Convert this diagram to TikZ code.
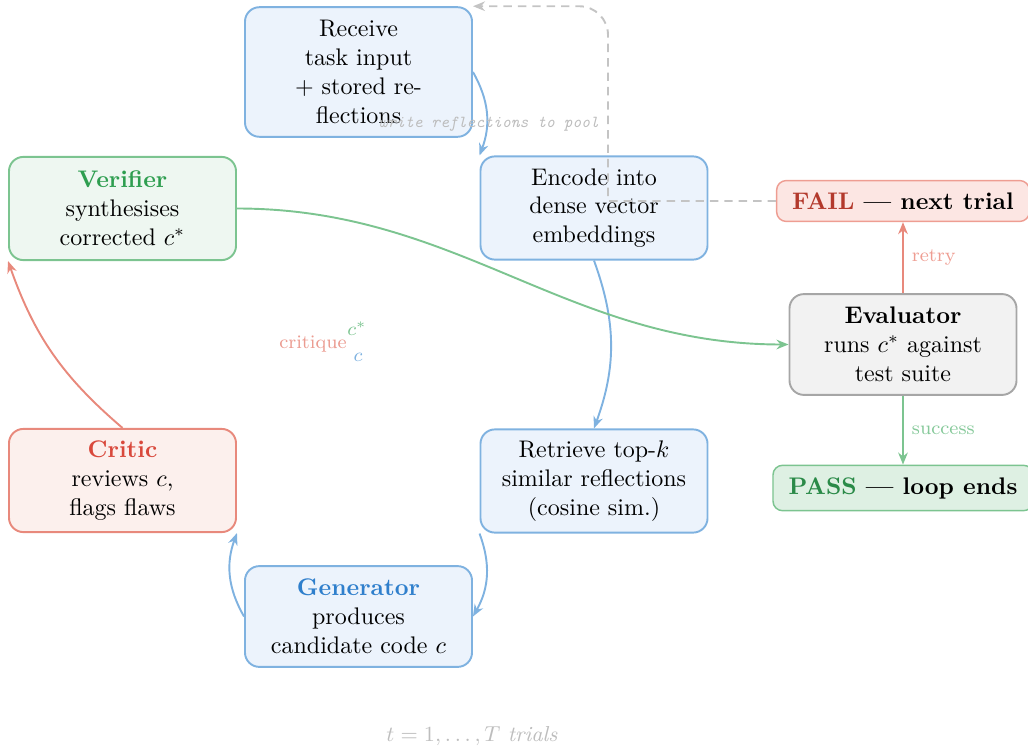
\documentclass[tikz,border=0pt]{standalone}
\usetikzlibrary{arrows.meta}

% palette
\definecolor{bluedge}{HTML}{7FB2E0}
\definecolor{bluefill}{HTML}{ECF3FC}
\definecolor{bluetitle}{HTML}{2F7FCC}
\definecolor{greenedge}{HTML}{7CC490}
\definecolor{greenfill}{HTML}{EEF7F1}
\definecolor{greentitle}{HTML}{2E9E50}
\definecolor{rededge}{HTML}{E8897C}
\definecolor{redfill}{HTML}{FCF0ED}
\definecolor{redtitle}{HTML}{D9493C}
\definecolor{grayedge}{HTML}{A6A6A6}
\definecolor{grayfill}{HTML}{F2F2F2}
\definecolor{failfill}{HTML}{FCE6E3}
\definecolor{failedge}{HTML}{EE9D92}
\definecolor{failtext}{HTML}{B3392C}
\definecolor{passfill}{HTML}{DEF0E3}
\definecolor{passtext}{HTML}{2A8A48}
\definecolor{dashgray}{HTML}{C4C4C4}
\definecolor{notegray}{HTML}{BDBDBD}
\definecolor{retrycol}{HTML}{EE9D92}
\definecolor{successcol}{HTML}{86C99A}

\tikzset{
  box/.style={rounded corners=6pt, line width=0.8pt, align=center,
    minimum width=94.6pt, minimum height=43pt, inner sep=4pt},
  bluebox/.style={box, draw=bluedge, fill=bluefill},
  greenbox/.style={box, draw=greenedge, fill=greenfill},
  redbox/.style={box, draw=rededge, fill=redfill},
  graybox/.style={box, draw=grayedge, fill=grayfill},
  outcome/.style={rounded corners=4pt, line width=0.6pt, inner xsep=6.5pt, inner ysep=5pt},
  flow/.style={-{Stealth[length=5pt,width=4pt]}, line width=0.8pt},
  lbl/.style={font=\footnotesize},
  poolline/.style={-{Stealth[length=5pt,width=4pt]}, line width=0.8pt, draw=dashgray,
    dash pattern=on 3.5pt off 2.5pt},
}

\begin{document}
\begin{tikzpicture}[x=0.41667pt, y=-0.41667pt]
\useasboundingbox (0,0) rectangle (1028,749);

% pipeline stages
\node[bluebox, minimum height=54pt] (recv) at (358.5,72)
  {Receive\\task input\\+ stored re-\\flections};
\node[bluebox] (enc) at (594,208) {Encode into\\dense vector\\embeddings};
\node[bluebox] (ret) at (594,481) {Retrieve top-$k$\\similar reflections\\(cosine sim.)};
\node[bluebox, minimum height=42pt] (gen) at (358.5,616.5)
  {\textcolor{bluetitle}{\bfseries Generator}\\produces\\candidate code $c$};
\node[redbox] (crit) at (122.5,480.5)
  {\textcolor{redtitle}{\bfseries Critic}\\reviews $c$,\\flags flaws};
\node[greenbox] (ver) at (122.5,208.5)
  {\textcolor{greentitle}{\bfseries Verifier}\\synthesises\\corrected $c^{*}$};
\node[graybox, minimum height=42pt] (eval) at (903,344.5)
  {\textbf{Evaluator}\\runs $c^{*}$ against\\test suite};

% outcomes
\node[outcome, draw=failedge, fill=failfill] (fail) at (903,201)
  {\textbf{\textcolor{failtext}{FAIL} --- next trial}};
\node[outcome, draw=greenedge, fill=passfill] (pass) at (903,488)
  {\textbf{\textcolor{passtext}{PASS} --- loop ends}};

% loop connectors
\draw[flow, bluedge] (recv.east) to[bend left=25] (enc.north west);
\draw[flow, bluedge] (enc.south) to[bend left=20] (ret.north);
\draw[flow, bluedge] (ret.south west) to[bend left=25] (gen.east);
\draw[flow, bluedge] (gen.west) to[bend left=25] (crit.south east);
\draw[flow, rededge] (crit.north) to[bend left=15] (ver.south west);
\draw[flow, greenedge] (ver.east) to[out=0, in=180] (eval.west);

% evaluation outcomes
\draw[flow, rededge] (eval.north) -- node[lbl, right, text=retrycol] {retry} (fail.south);
\draw[flow, greenedge] (eval.south) -- node[lbl, right, text=successcol] {success} (pass.north);

% reflection write-back
\coordinate (turn) at (608,201);
\coordinate (rise) at (608,124);
\draw[poolline] (fail.west) -- (turn)
  -- node[at end, left, font=\scriptsize\ttfamily\itshape, text=notegray] {write reflections to pool} (rise)
  [rounded corners=12pt] |- (recv.north east);

% floating annotations
\node[lbl, text=rededge!85] (critlbl) at (313,344) {critique};
\node[lbl, text=greenedge] (cstar) at (357,329) {$c^{*}$};
\node[lbl, text=bluedge] (cplain) at (358,357) {$c$};

\node[text=notegray, font=\small] (trials) at (472,736) {$t=1,\dots,T$ \textit{trials}};
\end{tikzpicture}
\end{document}
